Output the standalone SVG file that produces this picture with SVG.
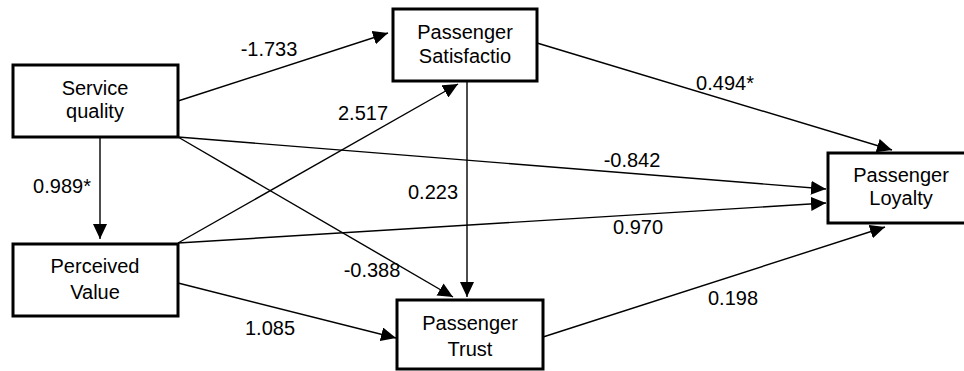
<svg xmlns="http://www.w3.org/2000/svg" width="964" height="371" viewBox="0 0 964 371">
<style>
.box{fill:#fff;stroke:#000;stroke-width:3}
.lbl{font-family:"Liberation Sans",Arial,sans-serif;font-size:20px;fill:#000;text-anchor:middle}
.ed{stroke:#000;stroke-width:1.4;fill:none;marker-end:url(#ah)}
</style>
<defs>
<marker id="ah" markerUnits="userSpaceOnUse" markerWidth="16" markerHeight="14" refX="15" refY="7" orient="auto">
<path d="M0,0 L15,7 L0,14 z" fill="#000"/>
</marker>
</defs>
<rect width="964" height="371" fill="#fff"/>
<g id="connectors">
<line class="ed" x1="178" y1="101" x2="388" y2="33"/>
<line class="ed" x1="100" y1="137" x2="100" y2="239"/>
<line class="ed" x1="178" y1="137" x2="826" y2="189"/>
<line class="ed" x1="178" y1="137" x2="453" y2="297"/>
<line class="ed" x1="178" y1="243" x2="458" y2="84"/>
<line class="ed" x1="178" y1="243" x2="826" y2="203"/>
<line class="ed" x1="178" y1="283" x2="396" y2="338"/>
<line class="ed" x1="467" y1="81" x2="467" y2="297"/>
<line class="ed" x1="537" y1="43" x2="892" y2="150"/>
<line class="ed" x1="543" y1="337" x2="885" y2="227"/>
<text class="lbl" x="269" y="56">-1.733</text>
<text class="lbl" x="62" y="193">0.989*</text>
<text class="lbl" x="363" y="120">2.517</text>
<text class="lbl" x="433" y="199">0.223</text>
<text class="lbl" x="725" y="90">0.494*</text>
<text class="lbl" x="632" y="167">-0.842</text>
<text class="lbl" x="638" y="234">0.970</text>
<text class="lbl" x="372" y="277">-0.388</text>
<text class="lbl" x="270" y="335">1.085</text>
<text class="lbl" x="733" y="305">0.198</text>
</g>
<g id="service">
<rect class="box" x="13" y="65" width="165" height="72"/>
<text class="lbl" x="95" y="95">Service</text>
<text class="lbl" x="95" y="118">quality</text>
</g>
<g id="value">
<rect class="box" x="13" y="244" width="165" height="72"/>
<text class="lbl" x="95" y="273">Perceived</text>
<text class="lbl" x="95" y="299">Value</text>
</g>
<g id="satisfaction">
<rect class="box" x="393" y="9" width="144" height="72"/>
<text class="lbl" x="465" y="39">Passenger</text>
<text class="lbl" x="465" y="63">Satisfactio</text>
</g>
<g id="trust">
<rect class="box" x="397" y="300" width="146" height="69"/>
<text class="lbl" x="470" y="330">Passenger</text>
<text class="lbl" x="470" y="356">Trust</text>
</g>
<g id="loyalty">
<rect class="box" x="828" y="153" width="146" height="70"/>
<text class="lbl" x="901" y="182">Passenger</text>
<text class="lbl" x="901" y="205">Loyalty</text>
</g>
</svg>
